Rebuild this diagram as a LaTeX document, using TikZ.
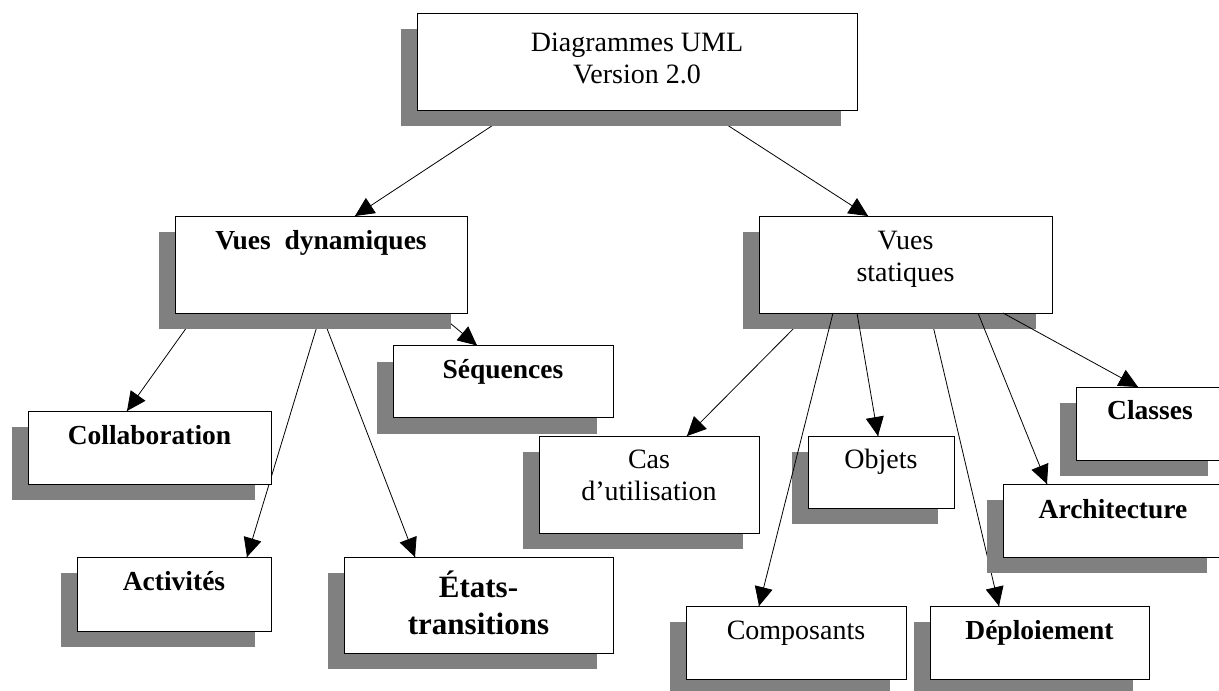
\documentclass[tikz,border=0pt]{standalone}
\usepackage{fontspec}
\setmainfont{Liberation Serif}
\usepackage{tikz}
\usetikzlibrary{arrows.meta}
\usetikzlibrary{decorations.markings}
\usetikzlibrary{shadows}
\pgfdeclarelayer{background}
\pgfsetlayers{background,main}
\definecolor{ombre}{gray}{0.5}
\tikzset{fleche/.style = {line width=0.8pt,
                          decoration={markings,
                                      mark=at position 1 with {\arrow{Triangle[length=19pt,width=18pt]}}},
                          postaction={decorate}}}
\tikzset{boite/.style = {draw, line width=1pt, fill=white, inner sep=0pt, outer sep=0pt,
                         font=\fontsize{28}{32}\selectfont,
                         drop shadow={shadow xshift=-16pt, shadow yshift=-16pt, opacity=1, fill=ombre}}}
\tikzset{gras/.style = {font=\fontsize{27.5}{32}\selectfont\bfseries}}
% box of width #1, height #2, text #4 set #3 below the top
\newcommand{\cadre}[4]{\parbox[c][#2pt][t]{#1pt}{\centering\vspace{#3pt}\strut #4}}

\begin{document}
\begin{tikzpicture}[x=1pt, y=-1pt]
    \useasboundingbox (0, 0) rectangle (1219, 691);

    % root
    \node [boite] (top) at (637, 61.5) {\cadre{440}{97}{16}{Diagrammes UML\\Version 2.0}};

    % the two views
    \node [boite, gras] (dyn) at (321, 264.5) {\cadre{292}{97}{11}{Vues~~dynamiques}};
    \node [boite] (stat) at (905.5, 264.5) {\cadre{293}{97}{11}{Vues\\statiques}};

    % dynamic diagrams
    \node [boite, gras] (seq) at (503, 381.5) {\cadre{220}{72}{11}{Séquences}};
    \node [boite, gras] (collab) at (149.5, 447.5) {\cadre{243}{73}{11}{Collaboration}};
    \node [boite, gras] (activ) at (174, 594) {\cadre{194}{74}{11}{Activités}};
    \node [boite, font=\fontsize{31}{37}\selectfont\bfseries] (etats) at (478.5, 605)
          {\cadre{269}{96}{14}{États-\\transitions}};

    % static diagrams
    \node [boite] (cas) at (649, 484.5) {\cadre{220}{97}{10}{Cas\\d’utilisation}};
    \node [boite] (objets) at (881, 472) {\cadre{146}{72}{10}{Objets}};
    \node [boite] (compos) at (796, 642.5) {\cadre{220}{73}{11}{Composants}};
    \node [boite, gras] (deploi) at (1039.5, 642.5) {\cadre{219}{73}{11}{Déploiement}};
    \node [boite, gras] (classes) at (1150, 423.5) {\cadre{148}{73}{10}{Classes}};
    \node [boite, gras] (archi) at (1113, 520.5) {\cadre{220}{73}{12}{Architecture}};

    \begin{pgfonlayer}{background}
      \fill [white] (0, 0) rectangle (1219, 691);
      \draw [fleche] ([xshift=-121pt]top.south) -- ([xshift=34pt]dyn.north);
      \draw [fleche] ([xshift=67pt]top.south) -- ([xshift=-37.5pt]stat.north);

      \draw [fleche] ([xshift=-124pt]dyn.south) -- ([xshift=-22.5pt]collab.north);
      \draw [fleche] (dyn.south) -- ([xshift=73pt]activ.north);
      \draw [fleche] (dyn.south) -- ([xshift=-63.5pt]etats.north);
      \draw [fleche] ([xshift=-29pt]dyn.south east) -- ([xshift=-26pt]seq.north);

      \draw [fleche] ([xshift=-96.5pt]stat.south) -- ([xshift=38pt]cas.north);
      \draw [fleche] ([xshift=24.5pt]stat.south) -- ([xshift=-40.5pt]deploi.north);
    \end{pgfonlayer}

    \draw [fleche] ([xshift=-72.5pt]stat.south) -- ([xshift=-37pt]compos.north);
    \draw [fleche] ([xshift=-48.5pt]stat.south) -- ([xshift=-3pt]objets.north);
    \draw [fleche] ([xshift=72.5pt]stat.south) -- ([xshift=-66pt]archi.north);
    \draw [fleche] ([xshift=97.5pt]stat.south) -- ([xshift=-12pt]classes.north);
  \end{tikzpicture}
\end{document}
